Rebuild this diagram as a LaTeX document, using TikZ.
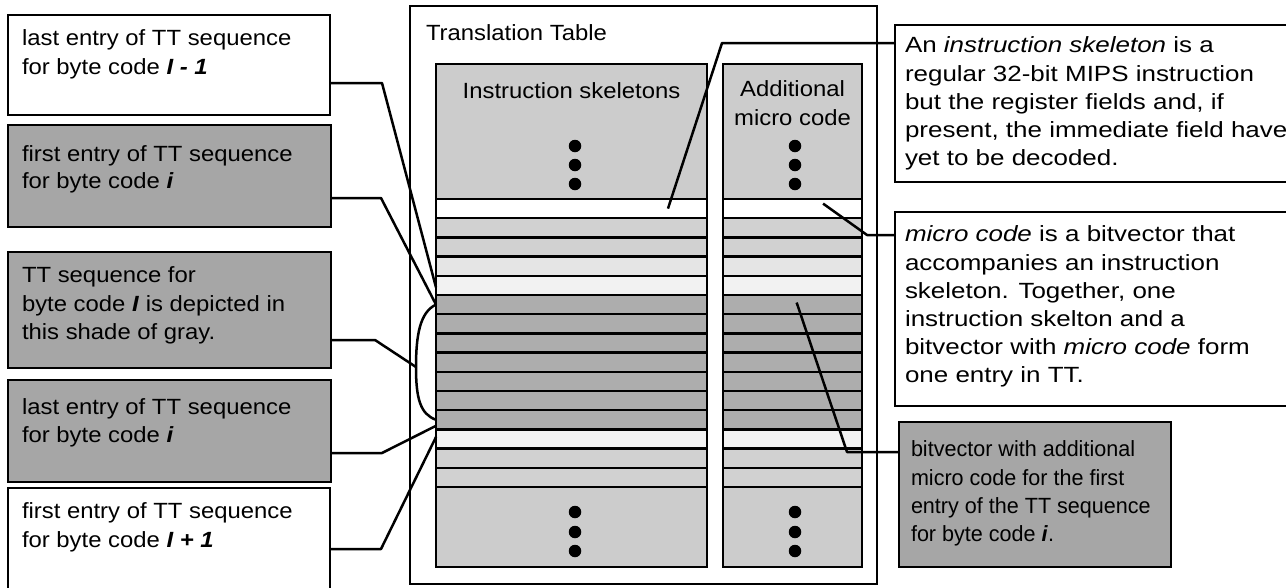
\documentclass[tikz,border=0pt]{standalone}
\usepackage{fontspec}
\setmainfont{Liberation Sans}[FakeStretch=1.085]
\newfontfamily\widefont{Liberation Sans}[FakeStretch=1.18]
\newfontfamily\narrowfont{Liberation Sans}[FakeStretch=0.98]
\usetikzlibrary{calc}

\definecolor{boxgray}{gray}{0.65}
\definecolor{areagray}{gray}{0.80}
\definecolor{rowlight}{gray}{0.82}
\definecolor{rowpale}{gray}{0.90}
\definecolor{rowmark}{gray}{0.95}
\definecolor{rowdark}{gray}{0.68}

\begin{document}
\begin{tikzpicture}[x=1pt,y=-1pt,
  frame/.style={draw=black, line width=2.3pt, inner sep=0pt, outer sep=0pt, anchor=north west},
  note/.style={frame, fill=white},
  shaded/.style={frame, fill=boxgray, line width=2.9pt},
  area/.style={frame, fill=areagray, line width=2.5pt},
  cell/.style={frame, line width=2.5pt, minimum height=19.2pt},
  txt/.style={inner sep=0pt, outer sep=0pt, anchor=north west, align=left,
              font=\fontsize{22}{28.5}\selectfont},
  widetxt/.style={txt, font=\widefont\fontsize{22}{28.2}\selectfont},
  narrowtxt/.style={txt, font=\narrowfont\fontsize{22}{28.3}\selectfont},
  wire/.style={line width=2.5pt, line join=round},
  dot/.style={circle, fill=black, draw=none, minimum size=12.5pt, inner sep=0pt},
]
\clip (0,0) rectangle (1286,587);
\fill[white] (0,0) rectangle (1286,587);

% ---- the translation table ----
\node[frame, fill=white, minimum width=467pt, minimum height=578pt] (tt) at (410,6) {};
\node[txt, font=\fontsize{22}{26}\selectfont] (ttl) at (426,25) {Translation Table};

% column areas above and below the entries
\node[area, minimum width=271pt, minimum height=135pt] (s0) at (436,64) {};
\node[area, minimum width=271pt, minimum height=80pt] (s16) at (436,487) {};
\node[area, minimum width=139pt, minimum height=135pt] (m0) at (723,64) {};
\node[area, minimum width=139pt, minimum height=80pt] (m16) at (723,487) {};

% entries: instruction skeleton (s) and micro code (m)
\foreach \c [count=\k] in {white,rowlight,rowlight,rowpale,rowmark,
    rowdark,rowdark,rowdark,rowdark,rowdark,rowdark,rowdark,
    rowmark,rowlight,rowlight} {
  \node[cell, fill=\c, minimum width=271pt] (s\k) at (436,{199+19.2*(\k-1)}) {};
  \node[cell, fill=\c, minimum width=139pt] (m\k) at (723,{199+19.2*(\k-1)}) {};
}

% column headings
\node[font=\fontsize{22}{28}\selectfont, anchor=base, inner sep=0pt] (hs) at (571.5,98) {Instruction skeletons};
\node[txt, anchor=north, align=center, font=\fontsize{22}{29}\selectfont] (hm) at (792.5,81) {Additional\\micro code};

% ellipsis dots
\foreach \y [count=\i] in {146,165,184} {
  \node[dot] (da\i) at (575,\y) {};
  \node[dot] (db\i) at (795,\y) {};
}
\foreach \y [count=\i] in {512,532,551} {
  \node[dot] (dc\i) at (575,\y) {};
  \node[dot] (dd\i) at (795,\y) {};
}

% ---- callout boxes, left ----
\node[note, minimum width=322pt, minimum height=100pt] (b1) at (8,15) {};
\node[shaded, minimum width=323pt, minimum height=102pt] (b2) at (8,125) {};
\node[shaded, minimum width=323pt, minimum height=116pt] (b3) at (8,252) {};
\node[shaded, minimum width=323pt, minimum height=102pt] (b4) at (8,380) {};
\node[note, minimum width=322pt, minimum height=130pt] (b5) at (8,488) {};

\node[txt] (t1) at (22,30) {last entry of TT sequence\\for byte code \textbf{\textit{I - 1}}};
\node[txt, font=\fontsize{22}{27}\selectfont] (t2) at (22,146) {first entry of TT sequence\\for byte code \textbf{\textit{i}}};
\node[txt] (t3) at (22,267) {TT sequence for\\byte code \textbf{\textit{I}} is depicted in\\this shade of gray.};
\node[txt, font=\fontsize{22}{28}\selectfont] (t4) at (22,399) {last entry of TT sequence\\for byte code \textbf{\textit{i}}};
\node[txt, font=\fontsize{22}{29}\selectfont] (t5) at (22,503) {first entry of TT sequence\\for byte code \textbf{\textit{I + 1}}};

% ---- callout boxes, right ----
\node[note, minimum width=420pt, minimum height=157pt] (r1) at (895,25) {};
\node[note, minimum width=420pt, minimum height=194pt] (r2) at (895,212) {};
\node[shaded, minimum width=272pt, minimum height=145pt] (r3) at (899,422) {};

\node[widetxt] (u1) at (905,37) {An \textit{instruction skeleton} is a\\regular 32-bit MIPS instruction\\but the register fields and, if\\present, the immediate field have\\yet to be decoded.};
\node[widetxt] (u2) at (905,226) {\textit{micro code} is a bitvector that\\accompanies an instruction\\skeleton. Together, one\\instruction skelton and a\\bitvector with \textit{micro code} form\\one entry in TT.};
\node[narrowtxt] (u3) at (911,441) {bitvector with additional\\micro code for the first\\entry of the TT sequence\\for byte code \textbf{\textit{i}}.};

% ---- connector points ----
\coordinate (bmid) at (416,367);
\coordinate (k1) at (382,83);
\coordinate (k2) at (381,198);
\coordinate (k3) at (375,340);
\coordinate (k4) at (382,453);
\coordinate (k5) at (381,549);
\coordinate (q1) at (722,43);
\coordinate (q2) at (867,235);
\coordinate (q3) at (847,452);
\coordinate (e1) at ($(s1.west)!0.856!(s1.east)$);
\coordinate (e2) at ($(m1.west)!0.72!(m1.east)+(0,-5)$);
\coordinate (e3) at ($(m6.west)!0.53!(m6.east)+(0,-2)$);

% ---- connectors ----
\draw[wire] (b1.north east |- k1) -- (k1) -- ([yshift=-2pt]s5.west);
\draw[wire] (b2.north east |- k2) -- (k2) -- (s6.west);
\draw[wire] (b3.north east |- k3) -- (k3) -- (bmid);
\draw[wire] (s6.west) .. controls (420,312) and (416,335) .. (bmid)
                      .. controls (416,398) and (420,414) .. (s12.west);
\draw[wire] (b4.north east |- k4) -- (k4) -- ([yshift=-6pt]s12.west);
\draw[wire] (b5.north east |- k5) -- (k5) -- ([yshift=2pt]s13.west);

\draw[wire] (r1.north west |- q1) -- (q1) -- (e1);
\draw[wire] (r2.north west |- q2) -- (q2) -- (e2);
\draw[wire] (r3.north west |- q3) -- (q3) -- (e3);
\end{tikzpicture}
\end{document}
